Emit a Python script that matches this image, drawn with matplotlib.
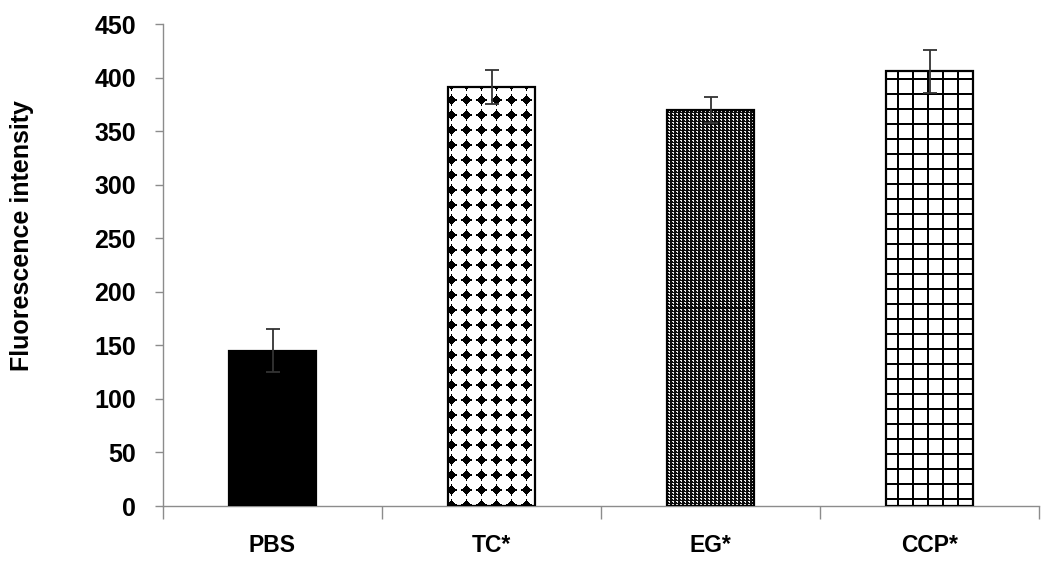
import numpy as np
import matplotlib
matplotlib.use("Agg")
import matplotlib.pyplot as plt

categories = ["PBS", "TC*", "EG*", "CCP*"]
values = [145, 391, 370, 406]
errors = [20, 16, 12, 20]
patterns = ["solid", "stars", "dots", "grid"]
y_ticks = [0, 50, 100, 150, 200, 250, 300, 350, 400, 450]
y_label = "Fluorescence intensity"

W, H, DPI = 1047, 564, 100
fig = plt.figure(figsize=(W / DPI, H / DPI), dpi=DPI)
ax = fig.add_axes([163 / W, (H - 506) / H, (1039 - 163) / W, (506 - 24) / H])

FONT = ['Liberation Sans', 'DejaVu Sans']
plt.rcParams['font.family'] = FONT

x = np.arange(len(categories))
ax.set_xlim(-0.5, len(categories) - 0.5)
ax.set_ylim(0, 450)

bars = ax.bar(x, values, width=0.40, facecolor='none', edgecolor='black',
              linewidth=1.6, zorder=3)
ax.errorbar(x, values, yerr=errors, fmt='none', ecolor='#333333',
            elinewidth=1.3, capsize=4.8, capthick=1.3, zorder=4)


def texture(kind, w, h):
    px = np.arange(w)[None, :] + 0.5
    py = np.arange(h)[:, None] + 0.5
    img = np.zeros((h, w))
    if kind == "solid":
        img[:] = 0.0
    elif kind == "stars":
        p = 15.0
        dx = np.abs(np.mod(px - 3.5 + 7.5, p) - 7.5)
        dy = np.abs(np.mod(py - 13.0 + 7.5, p) - 7.5)
        a = 0.8
        d = (dx ** a + dy ** a) ** (1.0 / a)
        img = np.where(d < 6.2, 0.0, 1.0)
    elif kind == "dots":
        xi = np.floor(px).astype(int) % 4
        yi = np.floor(py).astype(int) % 3
        white = ((xi == 2) & (yi != 0)) | ((xi == 1) & (yi == 1))
        img = np.where(white, 0.92, 0.05)
    elif kind == "grid":
        p = 15.0
        vx = np.mod(px - 11.7 + 1.0, p) < 2.0
        hy = np.mod(py - 7.6 + 1.0, p) < 2.0
        img = np.where(vx | hy, 0.0, 1.0) * np.ones((h, w))
    return img


fig.canvas.draw()
for bar, kind in zip(bars, patterns):
    x0, y0 = bar.get_x(), bar.get_y()
    x1, y1 = x0 + bar.get_width(), y0 + bar.get_height()
    (px0, py0), (px1, py1) = ax.transData.transform([(x0, y0), (x1, y1)])
    w = int(round(px1 - px0))
    h = int(round(py1 - py0))
    img = texture(kind, max(w, 1), max(h, 1))
    ax.imshow(img, cmap='gray', vmin=0, vmax=1, extent=(x0, x1, y0, y1),
              origin='upper', interpolation='nearest', aspect='auto',
              zorder=2, clip_path=bar, clip_on=True)

ax.set_xlim(-0.5, len(categories) - 0.5)
ax.set_ylim(0, 450)

for s in ['top', 'right']:
    ax.spines[s].set_visible(False)
for s in ['left', 'bottom']:
    ax.spines[s].set_color('#8c8c8c')
    ax.spines[s].set_linewidth(1.0)

ax.set_yticks(y_ticks)
ax.set_yticklabels([str(v) for v in y_ticks], fontsize=18, fontweight='bold',
                   family=FONT)
ax.tick_params(axis='y', direction='out', length=6, width=1.0, color='#8c8c8c',
               pad=13.5)

ax.set_xticks(np.arange(-0.5, len(categories), 1.0))
ax.set_xticklabels([])
ax.tick_params(axis='x', which='major', direction='out', length=9, width=1.0,
               color='#8c8c8c')
ax.set_xticks(x, minor=True)
ax.set_xticklabels(categories, minor=True, fontsize=16.5, fontweight='bold',
                   family=FONT)
ax.tick_params(axis='x', which='minor', length=0, pad=20)

ax.set_ylabel(y_label, fontsize=18, fontweight='bold', family=FONT)
ax.yaxis.set_label_coords((34 - 163) / 876, (506 - 236) / 482)

fig.savefig("out.png", dpi=DPI)
